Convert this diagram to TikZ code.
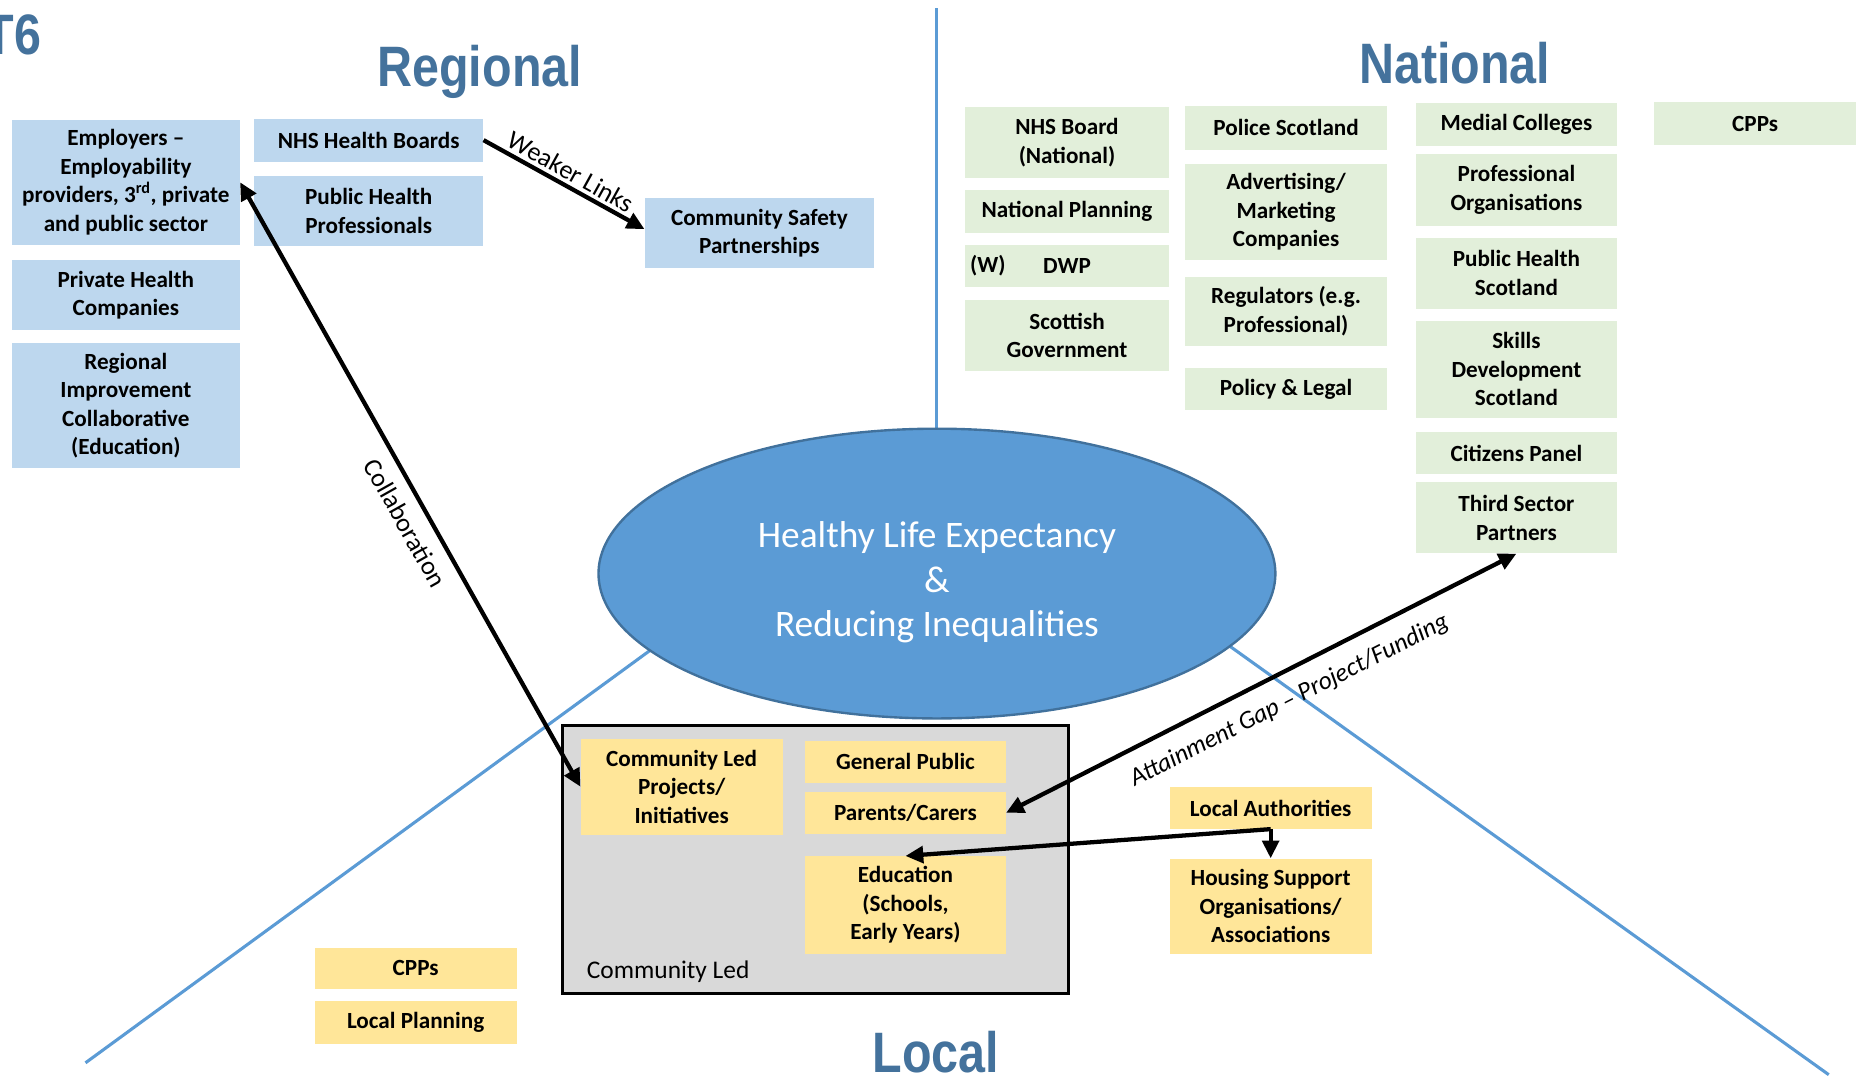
\documentclass[tikz,border=0pt]{standalone}
\usepackage{fontspec}
\setmainfont{Carlito}
\newfontfamily\titlefont[FakeStretch=0.85]{Liberation Sans}
\usetikzlibrary{arrows.meta,shapes.geometric}
\definecolor{regblue}{HTML}{BDD7EE}
\definecolor{natgreen}{HTML}{E2EFDA}
\definecolor{locyellow}{HTML}{FFE699}
\definecolor{framegray}{HTML}{D9D9D9}
\definecolor{ellfill}{HTML}{5B9BD5}
\definecolor{elldraw}{HTML}{41719C}
\definecolor{titleblue}{HTML}{44729C}
\definecolor{sectorline}{HTML}{5B9BD5}
\begin{document}
\begin{tikzpicture}[x=1pt,y=-1pt,
  boxbase/.style={inner sep=0pt, align=center, text=black,
    font=\bfseries\fontsize{19.5}{24}\selectfont},
  regbox/.style={boxbase, fill=regblue, minimum width=192pt, minimum height=#1},
  natbox/.style={boxbase, fill=natgreen, minimum width=170pt, minimum height=#1},
  locbox/.style={boxbase, fill=locyellow, minimum width=170pt, minimum height=#1},
  titletext/.style={inner sep=0pt, text=titleblue,
    font=\titlefont\bfseries\fontsize{48}{48}\selectfont},
  sector/.style={draw=sectorline, line width=2.6pt},
  arr/.style={line width=3.6pt, -{Triangle[length=15pt,width=14pt]}},
  darr/.style={line width=3.6pt, {Triangle[length=15pt,width=14pt]}-{Triangle[length=15pt,width=14pt]}},
  lbl/.style={inner sep=1pt, font=\fontsize{22}{26}\selectfont},
  lbli/.style={inner sep=1pt, font=\itshape\fontsize{21.5}{26}\selectfont},
]
\useasboundingbox (0,0) rectangle (1568,908);

% sector lines
\draw[sector] (789,7) -- (789,380);
\draw[sector] (557,540.7) -- (72,895);
\draw[sector] (1027,538) -- (1540,905);

% central ellipse
\node[ellipse, draw=elldraw, line width=2pt, fill=ellfill,
      minimum width=570pt, minimum height=244pt, inner sep=0pt] (ell) at (789,483) {};
\node[align=center, text=white, inner sep=0pt,
      font=\fontsize{31.5}{37.5}\selectfont] (elltext) at (789,490.5)
  {Healthy Life Expectancy\\\&\\Reducing Inequalities};

% titles
\node[titletext, anchor=base east] (t6) at (35,46) {T6};
\node[titletext, anchor=base] (regt) at (404,73) {Regional};
\node[titletext, anchor=base] (natt) at (1225,70) {National};
\node[titletext, anchor=base] (loct) at (788,903) {Local};

% regional
\node[regbox=105pt] (emp) at (106,153.5) {Employers –\\Employability\\providers, 3\textsuperscript{rd}, private\\and public sector};
\node[regbox=59pt] (privh) at (106,248.5) {Private Health\\Companies};
\node[regbox=105pt] (ric) at (106,341.5) {Regional\\Improvement\\Collaborative\\(Education)};
\node[regbox=36pt, minimum width=193pt] (nhsb) at (310.5,118) {NHS Health Boards};
\node[regbox=59pt, minimum width=193pt] (php) at (310.5,177.5) {Public Health\\Professionals};
\node[regbox=59pt, minimum width=193pt] (csp) at (639.5,196.5) {Community Safety\\Partnerships};

% national
\node[natbox=60pt, minimum width=171pt] (nhsn) at (898.5,120) {NHS Board\\(National)};
\node[natbox=36pt, minimum width=171pt] (natp) at (898.5,178) {National Planning};
\node[natbox=36pt, minimum width=171pt] (dwp) at (898.5,224) {DWP};
\node[boxbase, anchor=west] (dwpw) at ([xshift=4pt]dwp.west) {(W)};
\node[natbox=59pt, minimum width=171pt] (scotg) at (898.5,282.5) {Scottish\\Government};
\node[natbox=37pt] (police) at (1083,107.5) {Police Scotland};
\node[natbox=81pt] (adv) at (1083,178.5) {Advertising/\\Marketing\\Companies};
\node[natbox=58pt] (regu) at (1083,262) {Regulators (e.g.\\Professional)};
\node[natbox=35pt] (policy) at (1083,327.5) {Policy \& Legal};
\node[natbox=36pt] (medial) at (1277,105) {Medial Colleges};
\node[natbox=60pt] (profo) at (1277,160) {Professional\\Organisations};
\node[natbox=60pt] (phs) at (1277,230) {Public Health\\Scotland};
\node[natbox=82pt] (sds) at (1277,311) {Skills\\Development\\Scotland};
\node[natbox=35pt] (citp) at (1277,381.5) {Citizens Panel};
\node[natbox=60pt] (third) at (1277,436) {Third Sector\\Partners};
\node[natbox=36pt] (cppn) at (1478,104) {CPPs};

% local
\node[draw=black, line width=2.5pt, fill=framegray, minimum width=426pt,
      minimum height=226pt, inner sep=0pt] (frame) at (687,724) {};
\node[anchor=west, inner sep=0pt, font=\fontsize{21.4}{25}\selectfont] (frametext) at (494,818) {Community Led};
\node[locbox=81pt] (clp) at (574,662.5) {Community Led\\Projects/\\Initiatives};
\node[locbox=35pt, minimum width=169pt] (genp) at (762.5,641.5) {General Public};
\node[locbox=35pt, minimum width=169pt] (parents) at (762.5,684.5) {Parents/Carers};
\node[locbox=82pt, minimum width=169pt] (edu) at (762.5,762) {Education\\(Schools,\\Early Years)};
\node[locbox=35pt] (la) at (1070,680.5) {Local Authorities};
\node[locbox=80pt] (hs) at (1070,763) {Housing Support\\Organisations/\\Associations};
\node[locbox=35pt] (cppl) at (350,815.5) {CPPs};
\node[locbox=36pt] (lp) at (350,861) {Local Planning};

% connectors
\draw[arr] (nhsb.east) -- node[lbl, midway, sloped, above=2pt] (wl) {Weaker Links} ([yshift=3.5pt]csp.west);
\draw[darr] (emp.east) -- node[lbl, pos=0.545, sloped, below=9pt] (collab) {Collaboration} (clp.west);
\draw[darr] (parents.east) -- node[lbli, pos=0.53, sloped, below=12pt] (att) {Attainment Gap – Project/Funding} (third.south);
\draw[arr] (la.south) -- (edu.north);
\draw[arr] (la.south) -- (hs.north);
\end{tikzpicture}
\end{document}
